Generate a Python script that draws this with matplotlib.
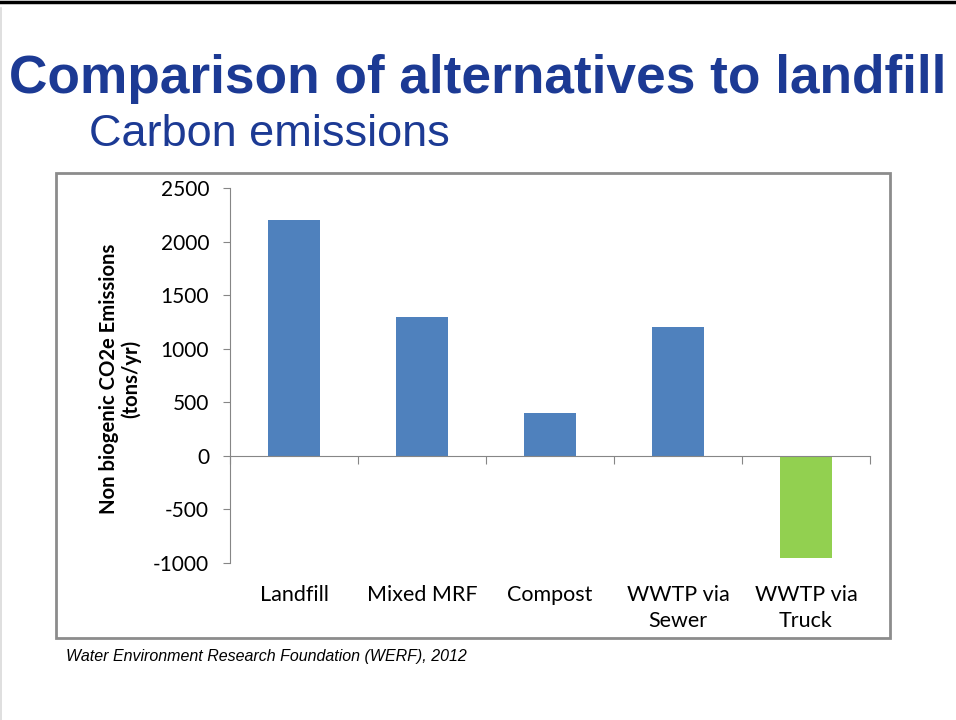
import matplotlib as mpl
mpl.use('Agg')
import matplotlib.pyplot as plt
from matplotlib.patches import Rectangle
from matplotlib.lines import Line2D
import matplotlib.transforms as mtransforms

# emissions per disposal route, tons CO2e / yr
categories = ["Landfill", "Mixed MRF", "Compost", "WWTP via\nSewer", "WWTP via\nTruck"]
emissions = [2200, 1300, 400, 1200, -950]
bar_colors = ["#4F81BD", "#4F81BD", "#4F81BD", "#4F81BD", "#92D050"]
yticks = [-1000, -500, 0, 500, 1000, 1500, 2000, 2500]

W, H = 956, 720
fig = plt.figure(figsize=(W / 100, H / 100), dpi=100)
fig.patch.set_facecolor("white")

def fx(px):
    return px / W

def fy(py):
    return 1 - py / H

# slide decorations
fig.add_artist(Line2D([0, 1], [fy(1.5), fy(1.5)], color="black", lw=2.5, transform=fig.transFigure))
fig.add_artist(Line2D([fx(0.8), fx(0.8)], [0, fy(8)], color="#d9d9d9", lw=1.2, transform=fig.transFigure))

title_blue = "#1C3A94"
fig.text(fx(9), fy(79), "Comparison of alternatives to landfill", color=title_blue,
         fontsize=38.3, fontweight="bold", family="Liberation Sans", va="center", ha="left")
fig.text(fx(89), fy(134), "Carbon emissions", color=title_blue,
         fontsize=32.5, family="Liberation Sans", va="center", ha="left")

# chart frame
fig.add_artist(Rectangle((fx(56), fy(638)), fx(890) - fx(56), fy(173) - fy(638),
                         transform=fig.transFigure, fill=False, edgecolor="#8c8c8c", lw=2))

ax = fig.add_axes([fx(230), fy(563), fx(870) - fx(230), fy(188) - fy(563)])
x = list(range(len(categories)))
ax.bar(x, emissions, width=0.4, color=bar_colors, zorder=2)

ax.set_xlim(-0.5, len(categories) - 0.5)
ax.set_ylim(-1000, 2500)
ax.set_yticks(yticks)
ax.set_yticklabels([str(v) for v in yticks], family="Lato", fontsize=15)

axis_gray = "#868686"
for side in ["top", "right"]:
    ax.spines[side].set_visible(False)
ax.spines["bottom"].set_position(("data", 0))
ax.spines["bottom"].set_color(axis_gray)
ax.spines["left"].set_color(axis_gray)
ax.set_xticks([i - 0.5 for i in range(len(categories) + 1)])
ax.set_xticklabels([])
ax.tick_params(axis="x", direction="out", length=6, color=axis_gray)
ax.tick_params(axis="y", direction="out", length=5, color=axis_gray, pad=10)

trans = mtransforms.blended_transform_factory(ax.transData, ax.transAxes)
for i, name in enumerate(categories):
    ax.text(i, -0.058, name, transform=trans, ha="center", va="top",
            family="Lato", fontsize=15.5, linespacing=1.42)

fig.text(fx(120), fy(379), "Non biogenic CO2e Emissions\n(tons/yr)", rotation=90,
         ha="center", va="center", family="Lato", fontweight="bold", fontsize=14.6,
         linespacing=1.1)

fig.text(fx(66), fy(657), "Water Environment Research Foundation (WERF), 2012",
         family="Liberation Sans", style="italic", fontsize=11.5, va="center", ha="left")

plt.savefig("out.png", dpi=100)
